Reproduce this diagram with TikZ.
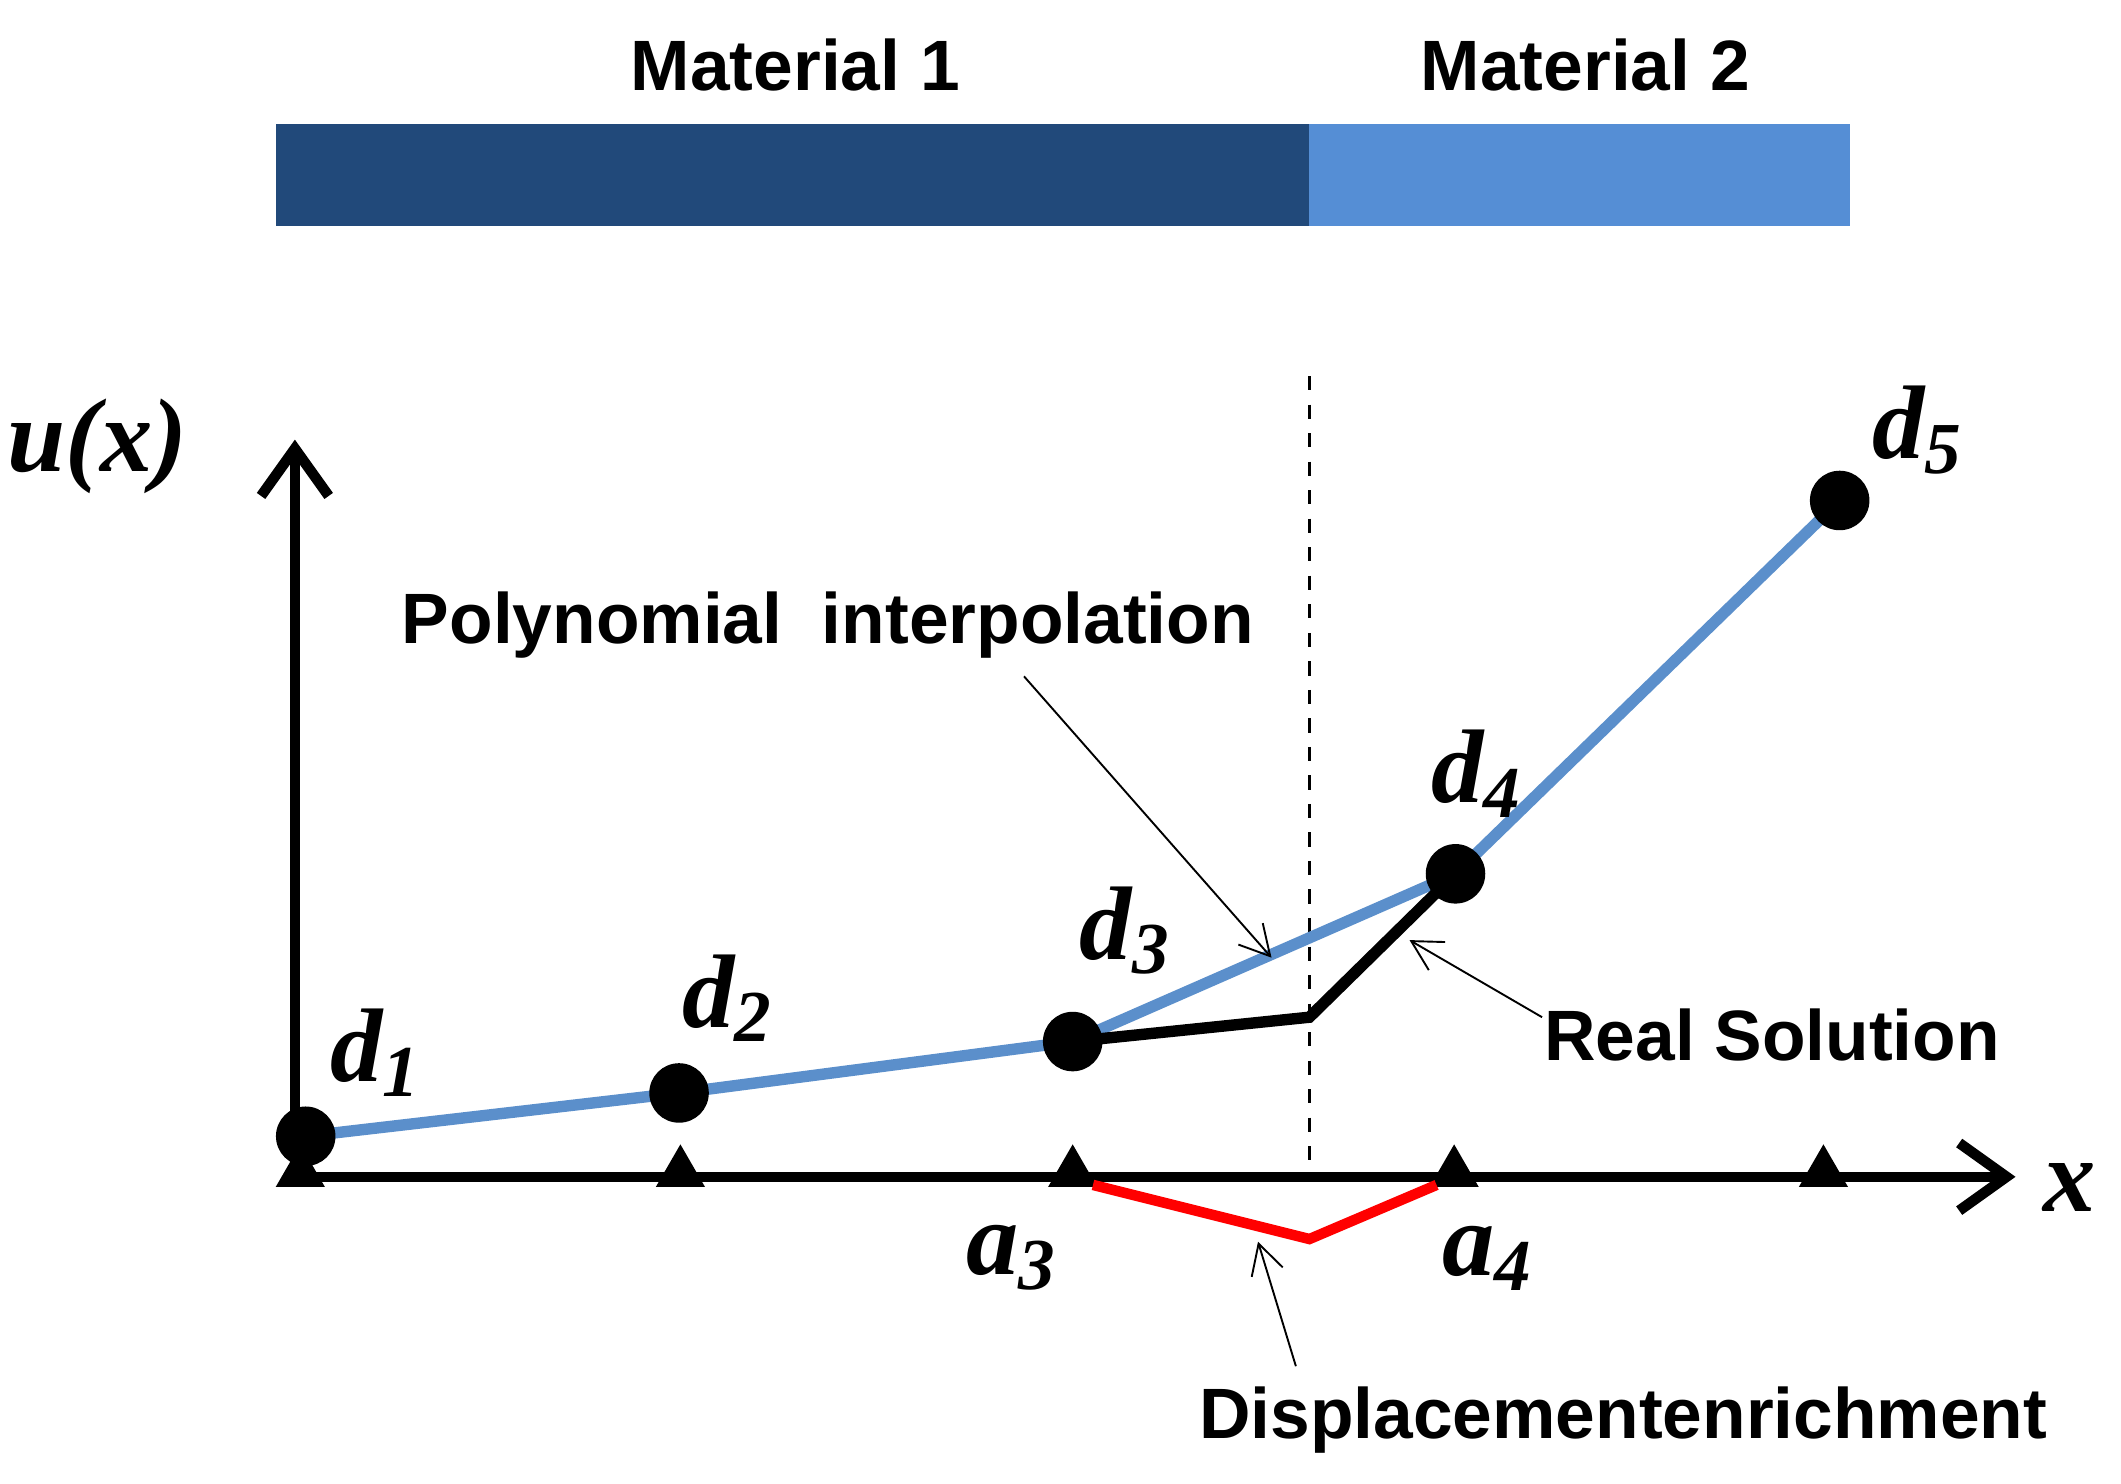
\documentclass[tikz,border=0pt]{standalone}
\usepackage{fontspec}
\setmainfont{Liberation Serif}
\setsansfont{Liberation Sans}
\usetikzlibrary{positioning}
\usetikzlibrary{arrows.meta}
\usetikzlibrary{calc}
\usetikzlibrary{shapes.geometric}
\definecolor{matdark}{HTML}{21497A}
\definecolor{matlight}{HTML}{558ED5}
\definecolor{interp}{HTML}{5B8FCB}
\begin{document}
\begin{tikzpicture}[x=1cm,y=1cm,
  lbl/.style={font=\sffamily\bfseries\fontsize{15}{17}\selectfont, inner sep=0pt},
  dlbl/.style={font=\bfseries\itshape\fontsize{22}{24}\selectfont, inner sep=0pt},
  pt/.style={circle, fill=black, minimum size=0.44cm, inner sep=0pt},
  tri/.style={regular polygon, regular polygon sides=3, fill=black, minimum size=0.42cm, inner sep=0pt},
  ptr/.style={-{Straight Barb[length=2.2mm,width=2.4mm]}, thin},
  axis/.style={line width=2.2pt, -{Straight Barb[length=3.5mm,width=5mm,line width=2.2pt]}}]
  \useasboundingbox (0,0) rectangle (15.68,10.97);
  % materials bar
  \fill[matdark] (2.04,9.30) rectangle (9.68,10.05);
  \fill[matlight] (9.68,9.30) rectangle (13.68,10.05);
  \node[lbl] (m1) at (5.88,10.49) {Material 1};
  \node[lbl] (m2) at (11.72,10.49) {Material 2};
  % interface
  \draw[dashed, thick] (9.68,8.19) -- (9.68,2.27);
  % axes
  \coordinate (o) at (2.18,2.27);
  \coordinate (ytop) at (2.18,7.72);
  \coordinate (xend) at (14.90,2.27);
  \draw[axis] (o) -- (ytop);
  \draw[axis] (o) -- (xend);
  \node[dlbl] (ux) at (0.72,7.67) {u(x)};
  \node[dlbl] (xl) at (15.30,2.19) {x};
  % nodes on the axis
  \foreach \i/\x in {1/2.22,2/5.03,3/7.93,4/10.75,5/13.48}
    \node[tri] (a\i) at (\x,2.30) {};
  \coordinate (rmid) at (9.68,1.81);
  \draw[red, line width=2.2pt] (8.08,2.21) -- (rmid) -- (10.62,2.21);
  % polynomial interpolation
  \coordinate (kink) at (9.68,3.45);
  \draw[interp, line width=2.4pt] (2.26,2.57) -- (5.02,2.89) -- (7.93,3.27) -- (10.76,4.51) -- (13.60,7.27);
  \draw[black, line width=2.4pt] (7.93,3.27) -- (kink) -- (10.76,4.51);
  \foreach \i/\x/\y in {1/2.26/2.57,2/5.02/2.89,3/7.93/3.27,4/10.76/4.51,5/13.60/7.27}
    \node[pt] (d\i) at (\x,\y) {};
  \node[dlbl] at (2.78,3.19) {d\textsubscript{1}};
  \node[dlbl] at (5.38,3.59) {d\textsubscript{2}};
  \node[dlbl] at (8.32,4.09) {d\textsubscript{3}};
  \node[dlbl] at (10.92,5.25) {d\textsubscript{4}};
  \node[dlbl] at (14.18,7.79) {d\textsubscript{5}};
  \node[dlbl] at (7.48,1.67) {a\textsubscript{3}};
  \node[dlbl] at (11.00,1.67) {a\textsubscript{4}};
  % labels and pointers
  \node[lbl] (poly) at (6.12,6.35) {Polynomial\ \ interpolation};
  \coordinate (polytip) at (9.40,3.89);
  \draw[ptr] (7.57,5.97) -- (polytip);
  \node[lbl] (real) at (13.10,3.32) {Real Solution};
  \coordinate (realtip) at (10.42,4.02);
  \draw[ptr] (11.40,3.45) -- (realtip);
  \node[lbl] (enr) at (12.00,0.47) {Displacementenrichment};
  \coordinate (enrtip) at (9.30,1.79);
  \draw[ptr] (9.58,0.87) -- (enrtip);
\end{tikzpicture}
\end{document}
